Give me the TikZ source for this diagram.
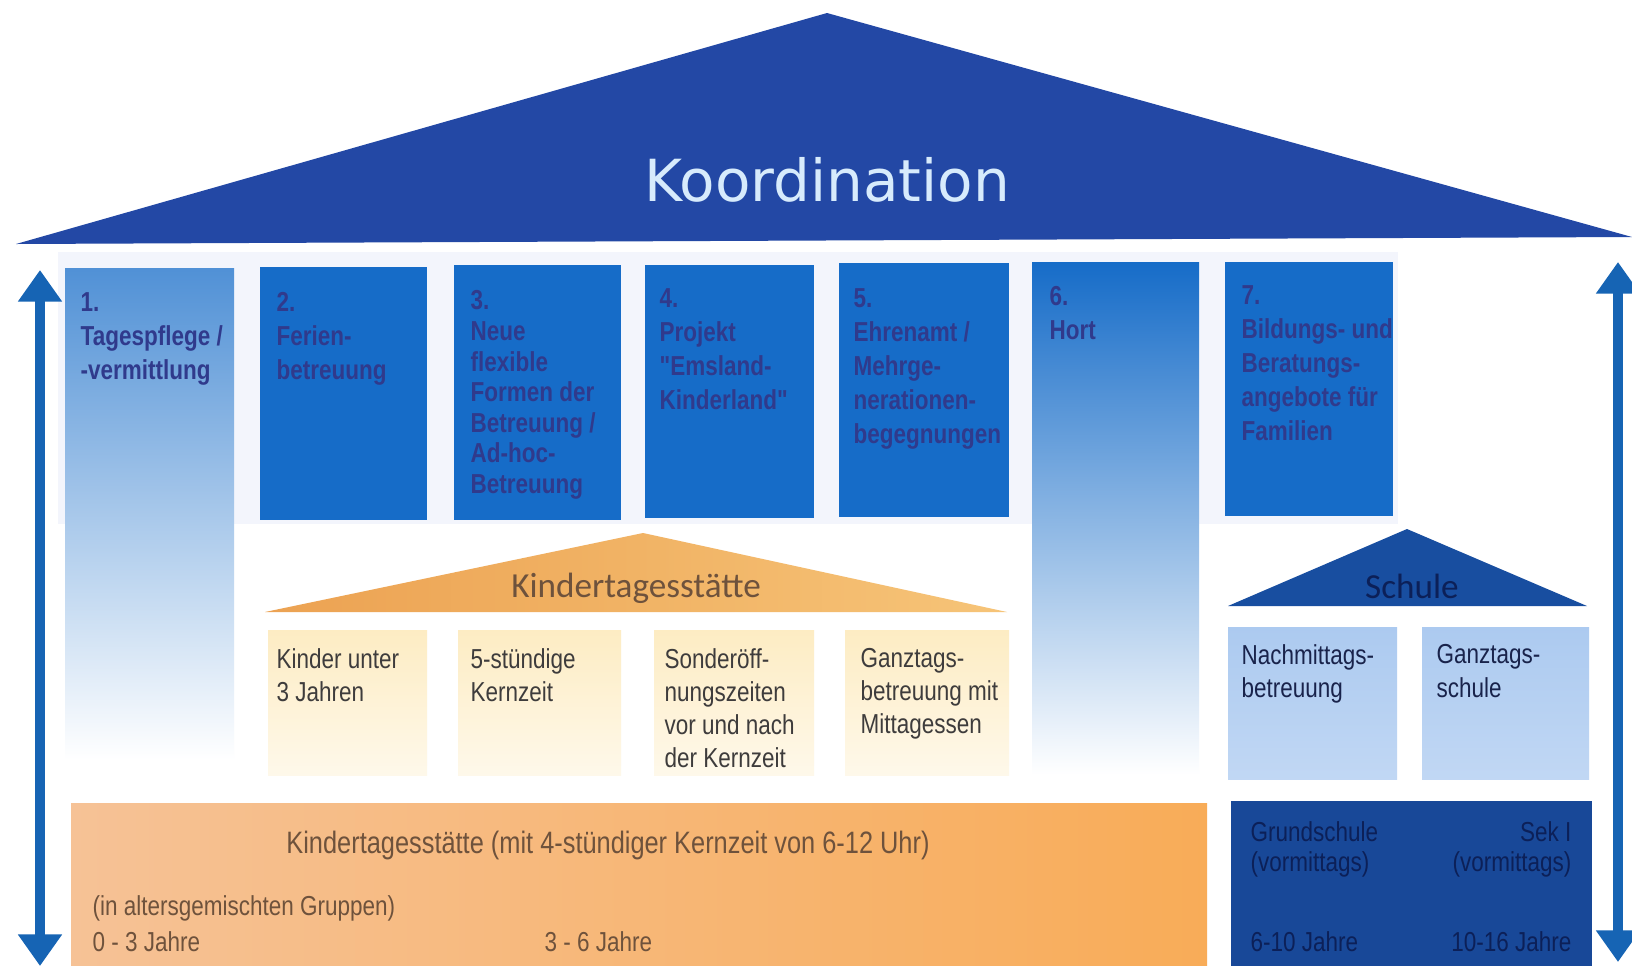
\documentclass[tikz,border=0pt]{standalone}
\usepackage{fontspec}
\setmainfont{Liberation Sans}
\newfontfamily\narrowfont[FakeStretch=0.82]{Liberation Sans}
\newfontfamily\roofFont{DejaVu Sans}
\newfontfamily\kitaFont{Carlito}
\usetikzlibrary{arrows.meta}

\definecolor{roofblue}{RGB}{35,72,165}
\definecolor{roofink}{RGB}{215,235,252}
\definecolor{pillarblue}{RGB}{22,108,200}
\definecolor{pillarfade}{RGB}{172,198,235}
\definecolor{hortgrey}{RGB}{160,178,205}
\definecolor{pillarink}{RGB}{48,58,140}
\definecolor{gapblue}{RGB}{243,245,252}
\definecolor{kitaorange}{RGB}{236,162,82}
\definecolor{kitalight}{RGB}{246,196,120}
\definecolor{kitaink}{RGB}{110,82,60}
\definecolor{offerpale}{RGB}{253,236,195}
\definecolor{offerink}{RGB}{62,60,60}
\definecolor{basepeach}{RGB}{246,194,150}
\definecolor{baseorange}{RGB}{248,172,88}
\definecolor{schoolblue}{RGB}{24,78,160}
\definecolor{schoolpale}{RGB}{172,202,240}
\definecolor{schoolink}{RGB}{25,35,75}
\definecolor{basenavy}{RGB}{24,72,152}
\definecolor{navyink}{RGB}{12,32,88}
\definecolor{arrowblue}{RGB}{22,100,180}

\begin{document}
\begin{tikzpicture}[x=0.01cm,y=-0.01cm,
  pillartext/.style={anchor=north west,align=left,inner sep=0pt,text=pillarink,font=\narrowfont\bfseries\fontsize{7.8}{9.64}\selectfont},
  offertext/.style={anchor=north west,align=left,inner sep=0pt,text=offerink,font=\narrowfont\fontsize{7.8}{9.35}\selectfont},
  schooltext/.style={anchor=north west,align=left,inner sep=0pt,text=schoolink,font=\narrowfont\fontsize{7.8}{9.45}\selectfont},
  basetext/.style={inner sep=0pt,text=kitaink,font=\narrowfont\fontsize{7.8}{9.4}\selectfont},
  navytext/.style={inner sep=0pt,text=navyink,font=\narrowfont\fontsize{7.8}{9.4}\selectfont},
  vaxis/.style={arrowblue,line width=2.8pt,{Triangle[length=9pt,width=12pt]}-{Triangle[length=9pt,width=12pt]}}]
\useasboundingbox (0,0) rectangle (1632,966);
\fill[white] (0,0) rectangle (1632,966);
\fill[gapblue] (58,252) rectangle (1398,524);
\fill[roofblue] (16,244) -- (827,13) -- (1632,237) -- cycle;
\node[font=\roofFont\fontsize{16.5}{20}\selectfont,text=roofink] (koord) at (827,180) {Koordination};

\shade[top color=pillarblue!75,middle color=pillarfade,bottom color=white] (65,268) rectangle (234,760);
\fill[pillarblue] (260,267) rectangle (427,520);
\fill[pillarblue] (454,265) rectangle (621,520);
\fill[pillarblue] (645,265) rectangle (814,518);
\fill[pillarblue] (839,263) rectangle (1009,517);
\shade[top color=pillarblue,middle color=hortgrey,bottom color=white] (1032,262) rectangle (1199,775);
\fill[pillarblue] (1225,262) rectangle (1393,516);

\node[pillartext] (p1) at (80,292) {1.\\Tagespflege /\\-vermittlung};
\node[pillartext] (p2) at (276,292) {2.\\Ferien-\\betreuung};
\node[pillartext,font=\narrowfont\bfseries\fontsize{7.8}{8.7}\selectfont] (p3) at (470,290) {3.\\Neue\\flexible\\Formen der\\Betreuung /\\Ad-hoc-\\Betreuung};
\node[pillartext] (p4) at (659,288) {4.\\Projekt\\"Emsland-\\Kinderland"};
\node[pillartext] (p5) at (853,288) {5.\\Ehrenamt /\\Mehrge-\\nerationen-\\begegnungen};
\node[pillartext] (p6) at (1049,286) {6.\\Hort};
\node[pillartext] (p7) at (1241,285) {7.\\Bildungs- und\\Beratungs-\\angebote für\\Familien};

\shade[left color=kitaorange,right color=kitalight] (265,612) -- (643,533) -- (1007,612) -- cycle;
\node[font=\kitaFont\fontsize{10}{12}\selectfont,text=kitaink] (kita) at (636,588) {Kindertagesstätte};

\shade[top color=offerpale,bottom color=offerpale!35] (268,630) rectangle (427,775);
\shade[top color=offerpale,bottom color=offerpale!35] (458,630) rectangle (621,775);
\shade[top color=offerpale,bottom color=offerpale!35] (654,630) rectangle (814,775);
\shade[top color=offerpale,bottom color=offerpale!35] (845,630) rectangle (1009,775);
\node[offertext] (o1) at (276,648) {Kinder unter\\3 Jahren};
\node[offertext] (o2) at (470,648) {5-stündige\\Kernzeit};
\node[offertext] (o3) at (664,648) {Sonderöff-\\nungszeiten\\vor und nach\\der Kernzeit};
\node[offertext] (o4) at (860,648) {Ganztags-\\betreuung mit\\Mittagessen};

\fill[schoolblue] (1228,606) -- (1407,529) -- (1587,606) -- cycle;
\node[font=\kitaFont\fontsize{10}{12}\selectfont,text=navyink] (schule) at (1412,586) {Schule};
\shade[top color=schoolpale,bottom color=schoolpale!75] (1228,627) rectangle (1397,779);
\shade[top color=schoolpale,bottom color=schoolpale!75] (1422,627) rectangle (1589,779);
\node[schooltext] (s1) at (1241,644) {Nachmittags-\\betreuung};
\node[schooltext] (s2) at (1436,644) {Ganztags-\\schule};

\shade[left color=basepeach,right color=baseorange] (71,803) rectangle (1207,966);
\node[basetext,font=\narrowfont\fontsize{8.8}{10}\selectfont] (kitabase) at (608,845) {Kindertagesstätte (mit 4-stündiger Kernzeit von 6-12 Uhr)};
\node[basetext,anchor=west] (mixed) at (92,908) {(in altersgemischten Gruppen)};
\node[basetext,anchor=west] (age03) at (92,942) {0 - 3 Jahre};
\node[basetext,anchor=west] (age36) at (544,942) {3 - 6 Jahre};

\fill[basenavy] (1231,801) rectangle (1592,966);
\node[navytext,anchor=west] (gs) at (1250,832) {Grundschule};
\node[navytext,anchor=west] (gsam) at (1250,864) {(vormittags)};
\node[navytext,anchor=east] (sek) at (1572,832) {Sek I};
\node[navytext,anchor=east] (sekam) at (1572,864) {(vormittags)};
\node[navytext,anchor=west] (age610) at (1250,942) {6-10 Jahre};
\node[navytext,anchor=east] (age1016) at (1572,942) {10-16 Jahre};

\coordinate (ltop) at (40,270);
\coordinate (lbot) at (40,966);
\coordinate (rtop) at (1618,262);
\coordinate (rbot) at (1618,962);
\draw[vaxis] (ltop) -- (lbot);
\draw[vaxis] (rtop) -- (rbot);
\end{tikzpicture}
\end{document}
